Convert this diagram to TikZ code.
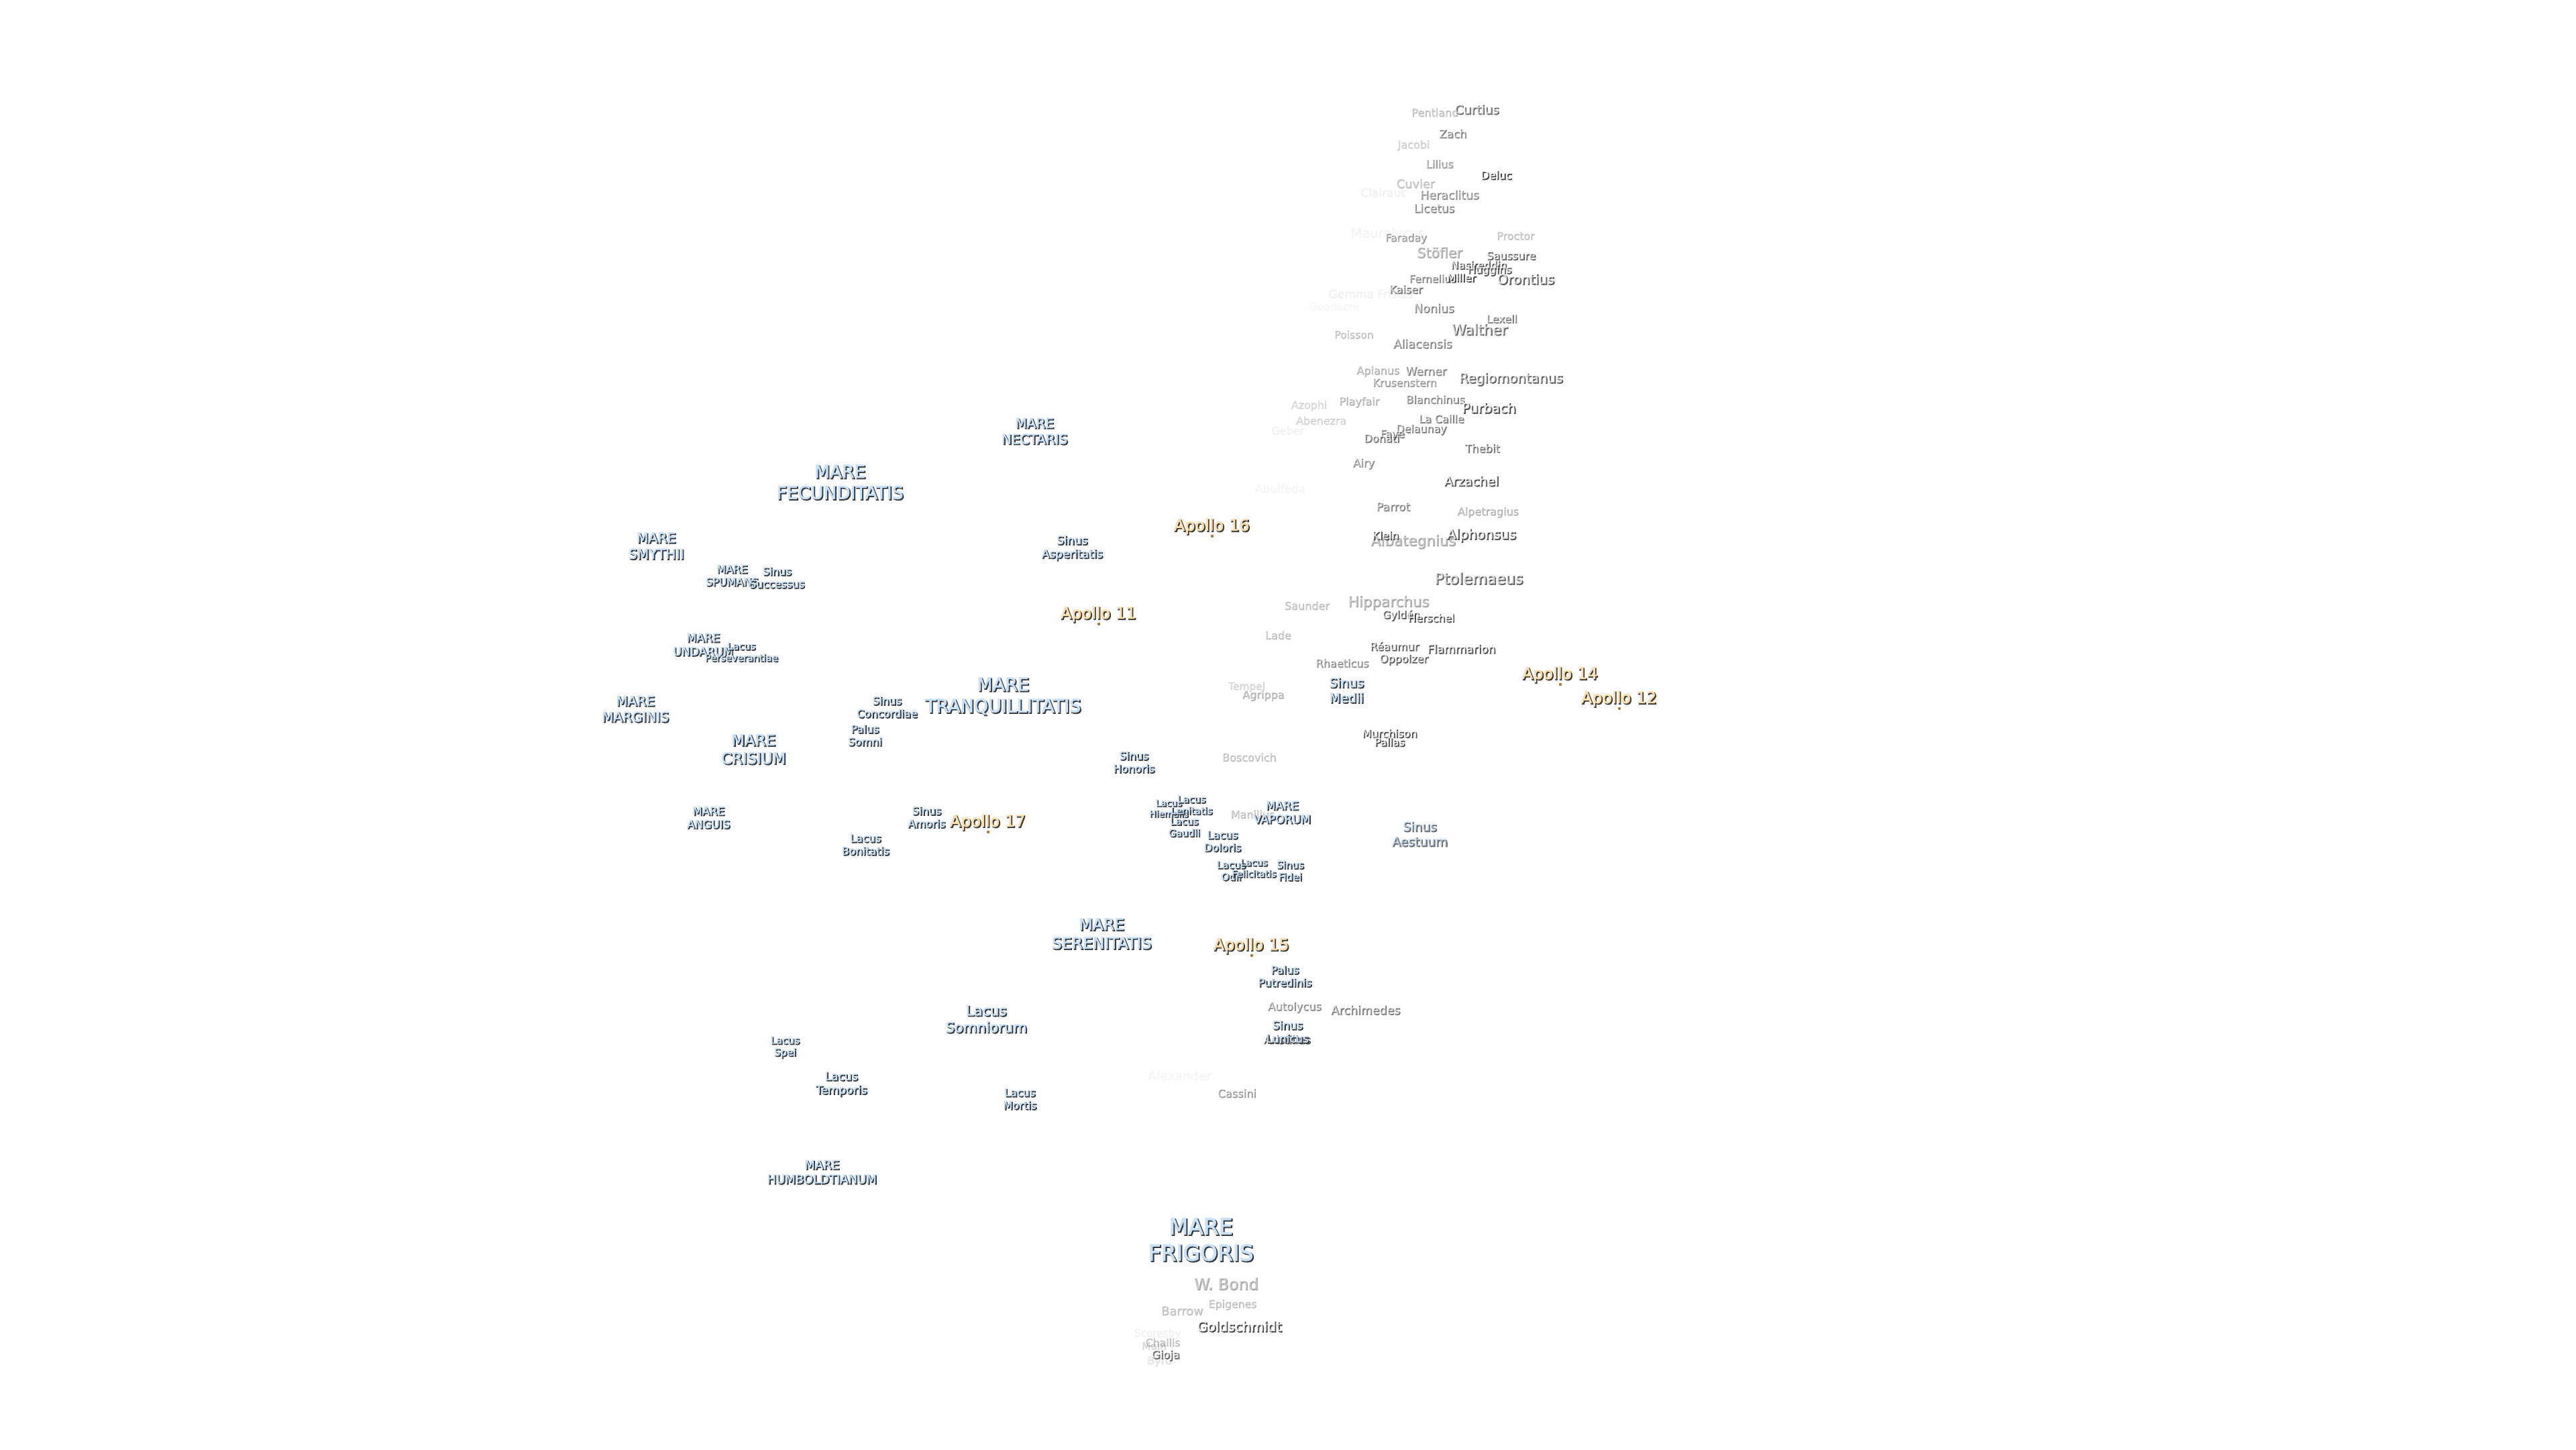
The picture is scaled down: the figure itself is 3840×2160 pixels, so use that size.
\documentclass[tikz,border=0pt]{standalone}
\usepackage{fontspec}
\setmainfont{DejaVu Sans}
\newfontfamily\mlshadow[FakeBold=5]{DejaVu Sans}
\newfontfamily\mltop[FakeBold=2.5]{DejaVu Sans}
\definecolor{marefill}{HTML}{C8E2FB}
\definecolor{apollofill}{HTML}{FBE0AE}
\definecolor{craterfill}{HTML}{FFFFFF}
\definecolor{shadowtone}{HTML}{3A3A3A}
\definecolor{sitetone}{HTML}{A87C3C}
\tikzset{
  lab/.style={inner sep=0pt,outer sep=0pt,align=center},
  labsh/.style={inner sep=0pt,outer sep=0pt,align=center,text=shadowtone},
  sitedot/.style={circle,fill=sitetone,inner sep=0pt,minimum size=4.5*0.01cm}
}
\newcommand{\moonlab}[7]{%
  \pgfmathsetmacro{\mlfs}{#4*0.28453}%
  \pgfmathsetmacro{\mlls}{#4*0.28453*1.19}%
  \node[labsh,text opacity=#5,font=\mlshadow\fontsize{\mlfs}{\mlls}\selectfont] (#1s) at ([shift={(0.6,0.9)}]#2,#3) {#7};
  \node[lab,text=#6,text opacity=#5,font=\mltop\fontsize{\mlfs}{\mlls}\selectfont] (#1) at ([shift={(-1,-0.7)}]#2,#3) {#7};
}
\newcommand{\crater}[6]{\moonlab{#1}{#2}{#3}{#4}{#5}{craterfill}{#6}}
\newcommand{\mare}[5]{\moonlab{#1}{#2}{#3}{#4}{1}{marefill}{#5}}
\newcommand{\apollo}[4]{%
  \moonlab{#1}{#2}{#3+3}{24}{1}{apollofill}{#4}
  \node[sitedot] (#1site) at (#2,#3+17) {};
}
\begin{document}
\begin{tikzpicture}[x=0.01cm,y=-0.01cm]
\path[use as bounding box,fill=white] (0,0) rectangle (3840,2160);
% faint craters first
\crater{maurolycus}{2068}{348}{19.3}{.03}{Maurolycus}
\crater{clairaut}{2061}{286}{17}{.04}{Clairaut}
\crater{gemma}{2043}{437}{17}{.04}{Gemma Frisius}
\crater{goodacre}{1988}{456}{15.7}{.025}{Goodacre}
\crater{geber}{1919}{641}{15.8}{.04}{Geber}
\crater{abulfeda}{1908}{727}{17}{.025}{Abulfeda}
\crater{alexander}{1758}{1602}{18.7}{.025}{Alexander}
\crater{scoresby}{1725}{1987}{15.3}{.04}{Scoresby}
\crater{byrd}{1728}{2028}{16}{.08}{Byrd}
\crater{mainc}{1720}{2005}{15.5}{.12}{Main}
\crater{tempel}{1858}{1023}{15.4}{.13}{Tempel}
\crater{azophi}{1951}{604}{15.8}{.12}{Azophi}
\crater{abenezra}{1969}{626}{15.8}{.13}{Abenezra}
\crater{jacobi}{2107}{216}{16}{.15}{Jacobi}
\crater{pentland}{2139}{167}{16}{.2}{Pentland}
\crater{cuvier}{2110}{273}{17.7}{.2}{Cuvier}
\crater{proctor}{2259}{351}{15.8}{.2}{Proctor}
\crater{poisson}{2018}{498}{15.6}{.2}{Poisson}
\crater{saunder}{1948}{902}{16}{.2}{Saunder}
\crater{lade}{1905}{946}{16}{.2}{Lade}
\crater{boscovich}{1862}{1128}{16}{.2}{Boscovich}
\crater{manilius}{1867}{1213}{15.9}{.2}{Manilius}
\crater{epigenes}{1837}{1944}{15.7}{.2}{Epigenes}
\crater{barrow}{1762}{1953}{17.8}{.2}{Barrow}
\crater{challis}{1733}{2000}{15.7}{.2}{Challis}
\crater{apianus}{2054}{553}{16}{.25}{Apianus}
\crater{playfair}{2026}{599}{16}{.25}{Playfair}
\crater{alpetragius}{2218}{763}{16}{.25}{Alpetragius}
\crater{agrippa}{1883}{1036}{16}{.25}{Agrippa}
\crater{stofler}{2146}{376}{20.4}{.3}{Stöfler}
\crater{albategnius}{2107}{807}{21.4}{.3}{Albategnius}
\crater{hipparchus}{2070}{898}{21.4}{.3}{Hipparchus}
\crater{wbond}{1828}{1913}{23.5}{.3}{W. Bond}
\crater{lilius}{2146}{244}{16}{.35}{Lilius}
\crater{faraday}{2096}{355}{15.6}{.35}{Faraday}
\crater{krusenstern}{2094}{570}{15.8}{.35}{Krusenstern}
\crater{cassini}{1844}{1629}{16.2}{.35}{Cassini}
\crater{heraclitus}{2161}{290}{17.4}{.4}{Heraclitus}
\crater{airy}{2033}{691}{16.3}{.4}{Airy}
\crater{autolycus}{1930}{1501}{16.3}{.4}{Autolycus}
\crater{rhaeticus}{2001}{988}{16}{.4}{Rhaeticus}
\crater{zach}{2166}{199}{16.5}{.45}{Zach}
\crater{licetus}{2138}{310}{17.1}{.45}{Licetus}
\crater{fernelius}{2136}{415}{15.6}{.45}{Fernelius}
\crater{nonius}{2138}{459}{17.5}{.45}{Nonius}
\crater{aliacensis}{2121}{512}{17.6}{.45}{Aliacensis}
\crater{werner}{2126}{553}{16.9}{.45}{Werner}
\crater{blanchinus}{2140}{595}{16}{.45}{Blanchinus}
\crater{parrot}{2077}{755}{16.9}{.45}{Parrot}
\crater{kaiser}{2096}{431}{16}{.5}{Kaiser}
\crater{lexell}{2239}{475}{15.9}{.5}{Lexell}
\crater{lacaille}{2149}{624}{15.8}{.5}{La Caille}
\crater{delaunay}{2119}{640}{15.8}{.5}{Delaunay}
\crater{faye}{2076}{648}{15.6}{.5}{Faye}
\crater{donati}{2060}{653}{16}{.5}{Donati}
\crater{archimedes}{2036}{1505}{17.5}{.5}{Archimedes}
\crater{curtius}{2202}{163}{18.5}{.55}{Curtius}
\crater{thebit}{2210}{668}{16.3}{.55}{Thebit}
\crater{walther}{2206}{491}{21.4}{.6}{Walther}
\crater{gioja}{1738}{2020}{16.3}{.6}{Gioja}
\crater{saussure}{2253}{381}{16}{.65}{Saussure}
\crater{regiomontanus}{2253}{565}{19.8}{.65}{Regiomontanus}
\crater{ptolemaeus}{2205}{862}{22.5}{.65}{Ptolemaeus}
\crater{gylden}{2089}{917}{15.7}{.65}{Gyldén}
\crater{reaumur}{2079}{963}{16}{.65}{Réaumur}
\crater{oppolzer}{2093}{983}{16}{.65}{Oppolzer}
\crater{nasireddin}{2205}{395}{15.6}{.7}{Nasireddin}
\crater{huggins}{2221}{403}{16}{.7}{Huggins}
\crater{orontius}{2275}{416}{20}{.7}{Orontius}
\crater{aristillus}{1919}{1549}{16.3}{.7}{Aristillus}
\crater{arzachel}{2194}{717}{18.8}{.75}{Arzachel}
\crater{klein}{2066}{798}{16}{.75}{Klein}
\crater{herschel}{2134}{921}{15.8}{.75}{Herschel}
\crater{flammarion}{2179}{967}{17}{.75}{Flammarion}
\crater{murchison}{2072}{1093}{16}{.75}{Murchison}
\crater{purbach}{2220}{608}{19.7}{.8}{Purbach}
\crater{alphonsus}{2209}{798}{20}{.8}{Alphonsus}
\crater{pallas}{2072}{1106}{15.8}{.8}{Pallas}
\crater{miller}{2179}{414}{15.7}{.85}{Miller}
\crater{goldschmidt}{1848}{1977}{20}{.85}{Goldschmidt}
\crater{deluc}{2231}{261}{16.2}{.9}{Deluc}
% seas, lakes, bays
\moonlab{aestuum}{2117}{1243}{18.6}{.6}{marefill}{Sinus\\Aestuum}
\mare{frigoris}{1791}{1848}{33}{MARE\\FRIGORIS}
\mare{fecunditatis}{1253}{719}{26.5}{MARE\\FECUNDITATIS}
\mare{tranquillitatis}{1496}{1038}{27}{MARE\\TRANQUILLITATIS}
\mare{serenitatis}{1643}{1392}{23.5}{MARE\\SERENITATIS}
\mare{crisium}{1124}{1117}{22.8}{MARE\\CRISIUM}
\mare{nectaris}{1543}{643}{20}{MARE\\NECTARIS}
\mare{smythii}{979}{814}{20.3}{MARE\\SMYTHII}
\mare{marginis}{948}{1057}{20}{MARE\\MARGINIS}
\mare{spumans}{1092}{858}{16}{MARE\\SPUMANS}
\mare{undarum}{1049}{961}{17.2}{MARE\\UNDARUM}
\mare{anguis}{1057}{1219}{16.5}{MARE\\ANGUIS}
\mare{vaporum}{1912}{1211}{17}{MARE\\VAPORUM}
\mare{humboldtianum}{1226}{1747}{18}{MARE\\HUMBOLDTIANUM}
\mare{successus}{1159}{861}{15.8}{Sinus\\Successus}
\mare{perseverantiae}{1106}{972}{14.5}{Lacus\\Perseverantiae}
\mare{concordiae}{1323}{1054}{16}{Sinus\\Concordiae}
\mare{somni}{1290}{1096}{16}{Palus\\Somni}
\mare{amoris}{1382}{1218}{16}{Sinus\\Amoris}
\mare{bonitatis}{1291}{1259}{16}{Lacus\\Bonitatis}
\mare{asperitatis}{1599}{817}{17}{Sinus\\Asperitatis}
\mare{honoris}{1691}{1136}{16}{Sinus\\Honoris}
\mare{medii}{2008}{1029}{19}{Sinus\\Medii}
\mare{hiemalis}{1743}{1205}{13.5}{Lacus\\Hiemalis}
\mare{lenitatis}{1777}{1200}{14.5}{Lacus\\Lenitatis}
\mare{gaudii}{1766}{1233}{14.6}{Lacus\\Gaudii}
\mare{doloris}{1823}{1254}{15.8}{Lacus\\Doloris}
\mare{odii}{1836}{1298}{15}{Lacus\\Odii}
\mare{felicitatis}{1870}{1294}{14}{Lacus\\Felicitatis}
\mare{fidei}{1924}{1298}{15}{Sinus\\Fidei}
\mare{putredinis}{1916}{1455}{16}{Palus\\Putredinis}
\mare{lunicus}{1920}{1538}{16.7}{Sinus\\Lunicus}
\mare{somniorum}{1471}{1519}{21}{Lacus\\Somniorum}
\mare{spei}{1171}{1561}{15}{Lacus\\Spei}
\mare{temporis}{1255}{1616}{17}{Lacus\\Temporis}
\mare{mortis}{1521}{1638}{16}{Lacus\\Mortis}
% landing sites
\apollo{apollosixteen}{1807}{782}{Apollo 16}
\apollo{apolloeleven}{1638}{913}{Apollo 11}
\apollo{apollofourteen}{2326}{1003}{Apollo 14}
\apollo{apollotwelve}{2414}{1039}{Apollo 12}
\apollo{apolloseventeen}{1473}{1223}{Apollo 17}
\apollo{apollofifteen}{1866}{1407}{Apollo 15}
\end{tikzpicture}
\end{document}
